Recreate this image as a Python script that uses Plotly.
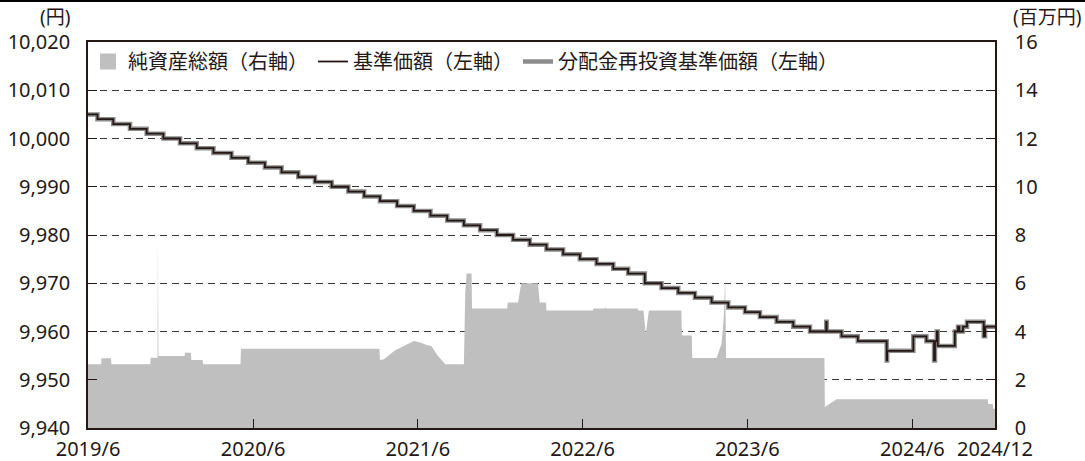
import plotly.graph_objects as go

# ---------------- data ----------------
nav_dates = [
    "2019-06-01", "2019-06-22", "2019-07-27", "2019-09-02", "2019-10-09", "2019-11-15",
    "2019-12-22", "2020-01-28", "2020-03-05", "2020-04-14", "2020-05-21", "2020-06-27",
    "2020-08-03", "2020-09-09", "2020-10-16", "2020-11-22", "2020-12-29", "2021-02-02",
    "2021-03-09", "2021-04-16", "2021-05-23", "2021-06-29", "2021-08-05", "2021-09-11",
    "2021-10-17", "2021-11-23", "2021-12-29", "2022-02-04", "2022-03-13", "2022-04-19",
    "2022-05-26", "2022-07-02", "2022-08-08", "2022-09-10", "2022-10-17", "2022-11-23",
    "2022-12-30", "2023-02-05", "2023-03-14", "2023-04-20", "2023-05-27", "2023-06-29",
    "2023-08-05", "2023-09-11", "2023-10-18", "2023-11-23", "2023-11-24", "2023-12-27",
    "2024-02-01", "2024-04-05", "2024-04-06", "2024-06-03", "2024-07-02", "2024-07-19",
    "2024-07-21", "2024-07-25", "2024-07-27", "2024-09-03", "2024-09-10", "2024-09-13",
    "2024-09-21", "2024-09-30", "2024-11-06", "2024-11-09", "2024-12-01",
]
nav_values = [
    10005, 10004, 10003, 10002, 10001, 10000,
    9999, 9998, 9997, 9996, 9995, 9994,
    9993, 9992, 9991, 9990, 9989, 9988,
    9987, 9986, 9985, 9984, 9983, 9982,
    9981, 9980, 9979, 9978, 9977, 9976,
    9975, 9974, 9973, 9972, 9970, 9969,
    9968, 9967, 9966, 9965, 9964, 9963,
    9962, 9961, 9960, 9962, 9960, 9959,
    9958, 9954, 9956, 9959, 9958, 9954,
    9958, 9960, 9957, 9960, 9961, 9960,
    9961, 9962, 9959, 9961, 9961,
]
# 分配金再投資基準価額 coincides with 基準価額 in the picture
reinvest_values = list(nav_values)

aum_dates = [
    "2019-06-01", "2019-06-30", "2019-07-01", "2019-07-22", "2019-07-23", "2019-10-17",
    "2019-10-18", "2019-11-02", "2019-11-03", "2019-11-04", "2020-01-01", "2020-01-02",
    "2020-01-15", "2020-01-16", "2020-02-10", "2020-02-11", "2020-05-04", "2020-05-05",
    "2021-03-08", "2021-03-09", "2021-03-18", "2021-04-10", "2021-05-23", "2021-06-05",
    "2021-06-20", "2021-07-01", "2021-07-15", "2021-08-01", "2021-09-11", "2021-09-14",
    "2021-09-17", "2021-09-28", "2021-09-29", "2021-12-16", "2021-12-17", "2022-01-09",
    "2022-01-16", "2022-02-22", "2022-02-26", "2022-03-12", "2022-03-13", "2022-06-24",
    "2022-06-25", "2022-07-21", "2022-07-22", "2022-07-23", "2022-10-01", "2022-10-02",
    "2022-10-14", "2022-10-19", "2022-10-26", "2023-01-06", "2023-01-07", "2023-01-29",
    "2023-01-30", "2023-03-25", "2023-04-05", "2023-04-10", "2023-04-13", "2023-04-15",
    "2023-11-19", "2023-11-20", "2023-12-16", "2024-11-15", "2024-11-16", "2024-11-26",
    "2024-11-27", "2024-12-01",
]
aum_values = [
    2.64, 2.64, 2.89, 2.89, 2.64, 2.64,
    2.91, 2.91, 7.68, 2.98, 2.98, 3.12,
    3.12, 2.82, 2.82, 2.64, 2.64, 3.29,
    3.29, 2.82, 2.85, 3.20, 3.61, 3.55,
    3.44, 3.40, 3.00, 2.64, 2.64, 5.60,
    6.40, 6.40, 4.95, 4.95, 5.20, 5.20,
    6.00, 6.00, 5.20, 5.20, 4.87, 4.87,
    4.95, 4.95, 5.02, 4.95, 4.95, 4.87,
    4.87, 3.90, 4.87, 4.87, 3.83, 3.83,
    2.90, 2.90, 3.50, 4.60, 6.17, 2.90,
    2.90, 0.87, 1.19, 1.19, 1.00, 1.00,
    0.80, 0.80,
]

x_tick_vals = ["2019-06-01", "2020-06-01", "2021-06-01", "2022-06-01",
               "2023-06-01", "2024-06-01", "2024-12-01"]
x_tick_text = ["2019/6", "2020/6", "2021/6", "2022/6", "2023/6", "2024/6", "2024/12"]
left_ticks = [9940, 9950, 9960, 9970, 9980, 9990, 10000, 10010, 10020]
right_ticks = [0, 2, 4, 6, 8, 10, 12, 14, 16]

names = ["純資産総額（右軸）", "基準価額（左軸）", "分配金再投資基準価額（左軸）"]

# ---------------- figure ----------------
FONT = "Noto Sans, Noto Sans CJK JP, sans-serif"
INK = "#231815"
AREA = "#bfbfbf"

fig = go.Figure()

fig.add_trace(go.Scatter(
    x=aum_dates, y=aum_values, yaxis="y", mode="lines",
    line=dict(width=0, color=AREA), fill="tozeroy", fillcolor=AREA,
    showlegend=False, legendgroup="aum", hoverinfo="skip"))

fig.add_trace(go.Scatter(
    x=nav_dates, y=reinvest_values, yaxis="y2", mode="lines", line_shape="hv",
    line=dict(width=4.5, color="#8c8c8c"), name=names[2], legendrank=3))

fig.add_trace(go.Scatter(
    x=nav_dates, y=nav_values, yaxis="y2", mode="lines", line_shape="hv",
    line=dict(width=1.8, color=INK), name=names[1], legendrank=2))

# legend proxy for the area (square swatch)
fig.add_trace(go.Scatter(
    x=[None], y=[None], yaxis="y", mode="markers",
    marker=dict(symbol="square", size=16, color=AREA),
    name=names[0], legendgroup="aum", legendrank=1))

W, H = 1085, 461
L, R, T, B = 88, 90, 42, 33
pw, ph = W - L - R, H - T - B

fig.update_layout(
    width=W, height=H,
    margin=dict(l=L, r=R, t=T, b=B, autoexpand=False),
    paper_bgcolor="white", plot_bgcolor="white",
    font=dict(family=FONT, size=20, color=INK),
    showlegend=True,
    legend=dict(orientation="h", x=0.0, xanchor="left", y=1.0, yanchor="top",
                bgcolor="rgba(0,0,0,0)", font=dict(size=20, family=FONT),
                traceorder="normal", itemsizing="trace"),
    xaxis=dict(type="date", range=["2019-06-01", "2024-12-01"],
               tickvals=x_tick_vals, ticktext=x_tick_text,
               ticks="inside", ticklen=9, tickwidth=1.3, tickcolor=INK,
               showline=True, linecolor=INK, linewidth=1.6, mirror=True,
               showgrid=False, zeroline=False, ticklabelstandoff=2),
    yaxis=dict(range=[0, 16], tickvals=right_ticks, side="right",
               ticks="inside", ticklen=9, tickwidth=1.3, tickcolor=INK,
               showline=True, linecolor=INK, linewidth=1.6,
               showgrid=True, gridcolor="#3a3a3a", gridwidth=1, griddash="7px,5px",
               zeroline=False, ticklabelstandoff=14),
    yaxis2=dict(range=[9940, 10020], tickvals=left_ticks, tickformat=",d",
                overlaying="y", side="left",
                ticks="inside", ticklen=9, tickwidth=1.3, tickcolor=INK,
                showline=True, linecolor=INK, linewidth=1.6,
                showgrid=False, zeroline=False, ticklabelstandoff=12),
    annotations=[
        dict(text="(円)", xref="paper", yref="paper",
             x=(72 - L) / pw, y=(H - B - 17) / ph, xanchor="right", yanchor="middle",
             showarrow=False, font=dict(size=19, family=FONT, color=INK)),
        dict(text="(百万円)", xref="paper", yref="paper",
             x=(1083 - L) / pw, y=(H - B - 17) / ph, xanchor="right", yanchor="middle",
             showarrow=False, font=dict(size=19, family=FONT, color=INK)),
    ],
    shapes=[
        dict(type="line", xref="paper", yref="paper",
             x0=-L / pw, x1=1 + R / pw, y0=(H - B - 1) / ph, y1=(H - B - 1) / ph,
             line=dict(color="black", width=2)),
    ],
)

fig.write_html(
    "out.html",
    config={"displayModeBar": False},
    post_script="document.body.style.margin='0';document.body.style.overflow='hidden';",
)
